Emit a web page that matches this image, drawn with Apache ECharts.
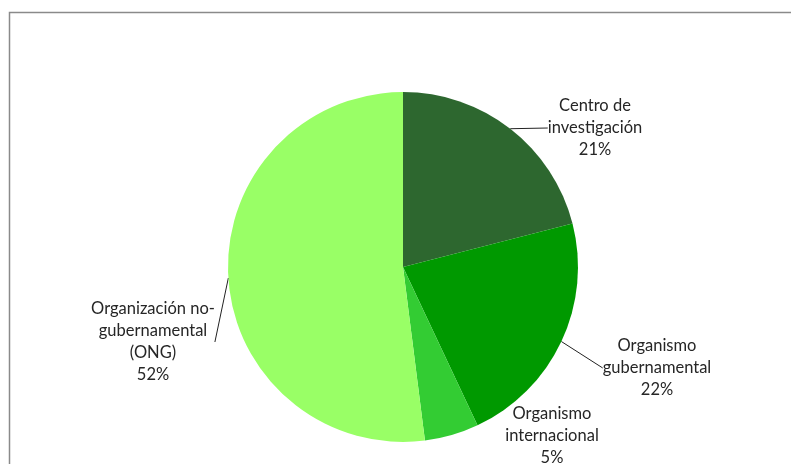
<!DOCTYPE html>
<html>
<head>
<meta charset="utf-8">
<script src="https://cdn.jsdelivr.net/npm/echarts@6/dist/echarts.min.js"></script>
<style>
html, body { margin: 0; padding: 0; background: #fff; }
#chart { width: 791px; height: 464px; }
</style>
</head>
<body>
<div id="chart"></div>
<script>
var categories = ['Centro de\ninvestigación', 'Organismo\ngubernamental', 'Organismo\ninternacional', 'Organización no-\ngubernamental\n(ONG)'];
var values = [21, 22, 5, 52];
var colors = ['#2d672f', '#009900', '#33cc33', '#99ff66'];

// where each label sits (centre of the text block)
var labelPos = [[595, 128], [657, 368], [552, 436], [153, 342]];

var myChart = echarts.init(document.getElementById('chart'));

var pieData = [];
for (var i = 0; i < values.length; i++) {
	pieData.push({
		name: categories[i],
		value: values[i],
		itemStyle: { color: colors[i] },
		labelLine: { show: i !== 2 }
	});
}

var option = {
	animation: false,
	graphic: [{
		type: 'rect',
		shape: { x: 9.5, y: 12.5, width: 800, height: 480 },
		style: { fill: 'none', stroke: '#8a8a8a', lineWidth: 1.5 },
		silent: true
	}],
	series: [{
		type: 'pie',
		center: [403, 267],
		radius: 175,
		startAngle: 90,
		clockwise: true,
		data: pieData,
		label: {
			show: true,
			formatter: '{b}\n{d}%',
			fontFamily: 'Lato',
			fontSize: 16.5,
			lineHeight: 22,
			color: '#262626',
			align: 'center'
		},
		labelLine: {
			show: true,
			length: 2,
			length2: 0,
			lineStyle: { color: '#222', width: 1 }
		},
		labelLayout: function (params) {
			var p = labelPos[params.dataIndex];
			return { x: p[0], y: p[1], align: 'center', verticalAlign: 'middle' };
		}
	}]
};

myChart.setOption(option);
</script>
</body>
</html>
